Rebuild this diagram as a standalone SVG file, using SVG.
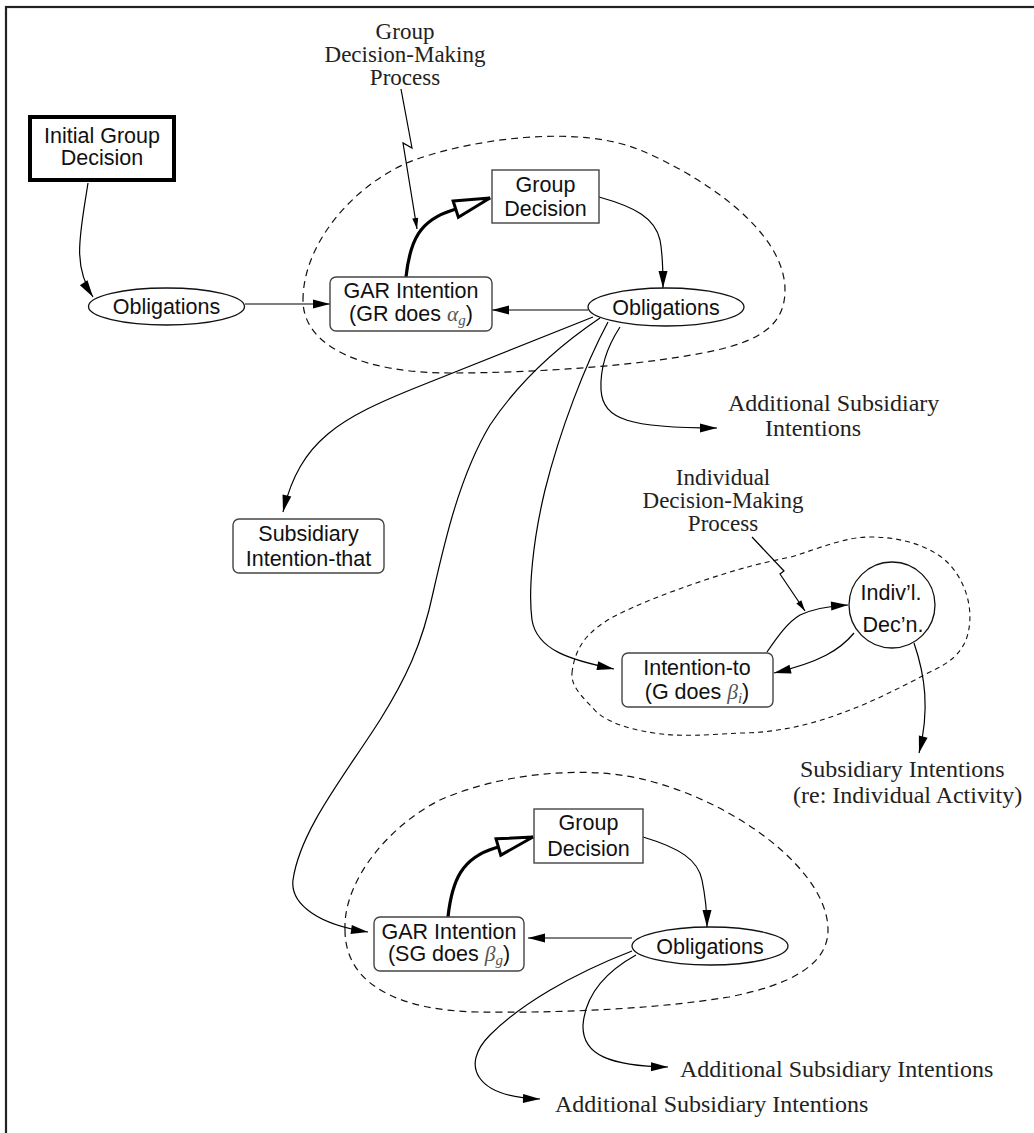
<svg xmlns="http://www.w3.org/2000/svg" width="1034" height="1133" viewBox="0 0 1034 1133">
<defs>
<style>
.sans{font-family:"Liberation Sans",Arial,sans-serif;font-size:21.5px;fill:#111;text-anchor:middle}
.serif{font-family:"Liberation Serif","Times New Roman",serif;font-size:24px;fill:#222}
.proc{font-size:23px}
.mid{text-anchor:middle}
.math{font-family:"Liberation Serif","Times New Roman",serif;font-style:italic;fill:#555}
.box{fill:#fff;stroke:#444;stroke-width:1.4}
.ell{fill:#fff;stroke:#111;stroke-width:1.3}
.con{fill:none;stroke:#000;stroke-width:1.2}
.thick{fill:none;stroke:#000;stroke-width:3.2}
.dash{fill:none;stroke:#111;stroke-width:1.2;stroke-dasharray:7 5}
.dash2{fill:none;stroke:#111;stroke-width:1.1;stroke-dasharray:5 4}
</style>
<marker id="ah" markerUnits="userSpaceOnUse" markerWidth="17" markerHeight="9" refX="17" refY="4.5" orient="auto" style="overflow:visible"><path d="M0,0 L17,4.5 L0,9 z" fill="#000"/></marker>
<marker id="ahs" markerUnits="userSpaceOnUse" markerWidth="11" markerHeight="6" refX="11" refY="3" orient="auto" style="overflow:visible"><path d="M0,0 L11,3 L0,6 z" fill="#000"/></marker>
<marker id="open" markerUnits="userSpaceOnUse" markerWidth="36" markerHeight="17" refX="36" refY="8.5" orient="auto" style="overflow:visible"><path d="M0,0 L36,8.5 L0,17 z" fill="#fff" stroke="#000" stroke-width="3" stroke-linejoin="miter"/></marker>
</defs>
<rect x="0" y="0" width="1034" height="1133" fill="#fff"/>
<rect x="6" y="7" width="1100" height="1200" fill="none" stroke="#222" stroke-width="2.2"/>

<g id="regions">
<path class="dash" d="M303,300 C303,240 360,178 420,158 C480,138 580,125 640,150 C700,175 785,230 785,290 C785,325 760,340 717,350 C650,365 540,373 450,373 C370,373 303,350 303,300 Z"/>
<path class="dash2" d="M572,673 C575,645 590,630 613,617 C640,603 670,592 705,580 C735,570 760,563 791,557 C820,548 845,537 870,537 C905,537 935,548 950,565 C968,585 975,615 966,640 C958,658 945,665 928,673 C900,688 870,703 842,713 C810,725 775,733 740,733 C705,735 680,737 654,733 C620,728 600,718 592,707 C580,695 571,685 572,673 Z"/>
<path class="dash" d="M345,930 C343,880 390,825 440,800 C490,778 550,770 600,773 C700,778 828,860 828,930 C828,965 790,985 729,997 C650,1010 550,1013 480,1012 C400,1011 345,985 345,930 Z"/>
</g>

<g id="connectors">
<path class="con" marker-end="url(#ah)" d="M88,183 C80,235 72,265 93,297"/>
<path class="con" marker-end="url(#ah)" d="M245,304 L330,304"/>
<path class="thick" marker-end="url(#open)" d="M406,277 C410,240 420,220 453,210 L490,198"/>
<path class="con" marker-end="url(#ah)" d="M599,197 C635,207 655,218 660,240 C663,255 663,270 663,288"/>
<path class="con" marker-end="url(#ah)" d="M588,310 L492,310"/>
<path class="con" marker-end="url(#ah)" d="M593,317 L420,386 C340,418 300,440 283,512"/>
<path class="con" marker-end="url(#ah)" d="M600,318 C560,345 520,380 490,425 C460,475 445,540 433,593 C422,645 405,680 380,720 C345,775 300,830 293,880 C290,905 320,925 368,932"/>
<path class="con" marker-end="url(#ah)" d="M608,322 C585,365 560,430 545,490 C533,540 528,590 532,620 C537,650 570,660 614,669"/>
<path class="con" marker-end="url(#ah)" d="M620,327 C605,350 600,370 601,390 C603,420 630,428 717,428"/>
<path class="con" marker-end="url(#ahs)" d="M401,89 L412,148 L403,143 L417,229"/>
<path class="con" marker-end="url(#ahs)" d="M752,537 L784,571 L780,574 L805,611"/>
<path class="con" marker-end="url(#ah)" d="M767,652 C778,636 788,622 800,615 C815,608 830,606 848,605"/>
<path class="con" marker-end="url(#ah)" d="M854,633 C840,650 820,662 774,673"/>
<path class="con" marker-end="url(#ah)" d="M914,643 C925,675 930,710 919,753"/>
<path class="thick" marker-end="url(#open)" d="M448,917 C452,880 462,858 495,848 L533,837"/>
<path class="con" marker-end="url(#ah)" d="M643,837 C680,848 698,860 702,880 C706,900 707,910 707,927"/>
<path class="con" marker-end="url(#ah)" d="M632,938 L528,938"/>
<path class="con" marker-end="url(#ah)" d="M632,951 C570,975 520,1005 490,1035 C460,1065 475,1097 540,1099"/>
<path class="con" marker-end="url(#ah)" d="M636,955 C600,975 585,1000 583,1025 C582,1055 610,1066 668,1067"/>
</g>

<g id="initial-group-decision">
<rect x="30" y="117" width="144" height="63" fill="#fff" stroke="#000" stroke-width="4"/>
<text class="sans" x="102" y="143">Initial Group</text>
<text class="sans" x="102" y="165">Decision</text>
</g>

<g id="obligations-1">
<ellipse class="ell" cx="166.5" cy="306.5" rx="78" ry="18.5"/>
<text class="sans" x="166.5" y="314">Obligations</text>
</g>

<g id="gar-intention-1">
<rect class="box" x="330" y="277" width="162" height="54" rx="6"/>
<text class="sans" x="411" y="298">GAR Intention</text>
<text class="sans" x="411" y="321">(GR does <tspan class="math">α</tspan><tspan class="math" font-size="15" dy="4">g</tspan><tspan dy="-4">)</tspan></text>
</g>

<g id="group-decision-1">
<rect class="box" x="492" y="170" width="107" height="53"/>
<text class="sans" x="545.5" y="192">Group</text>
<text class="sans" x="545.5" y="216">Decision</text>
</g>

<g id="obligations-2">
<ellipse class="ell" cx="666" cy="307" rx="78" ry="19"/>
<text class="sans" x="666" y="315">Obligations</text>
</g>

<g id="label-group-dmp">
<text class="serif proc mid" x="405" y="39">Group</text>
<text class="serif proc mid" x="405" y="62">Decision-Making</text>
<text class="serif proc mid" x="405" y="85">Process</text>
</g>

<g id="label-additional-1">
<text class="serif" x="728" y="411">Additional Subsidiary</text>
<text class="serif" x="765" y="436">Intentions</text>
</g>

<g id="subsidiary-intention-that">
<rect class="box" x="233" y="519" width="151" height="54" rx="6"/>
<text class="sans" x="308.5" y="541">Subsidiary</text>
<text class="sans" x="308.5" y="566">Intention-that</text>
</g>

<g id="label-individual-dmp">
<text class="serif proc mid" x="723" y="485">Individual</text>
<text class="serif proc mid" x="723" y="508">Decision-Making</text>
<text class="serif proc mid" x="723" y="531">Process</text>
</g>

<g id="intention-to">
<rect class="box" x="622" y="653" width="151" height="54" rx="6"/>
<text class="sans" x="697" y="675">Intention-to</text>
<text class="sans" x="697" y="699">(G does <tspan class="math">β</tspan><tspan class="math" font-size="15" dy="4">i</tspan><tspan dy="-4">)</tspan></text>
</g>

<g id="indivl-decn">
<circle cx="892" cy="605" r="43" fill="#fff" stroke="#111" stroke-width="1.3"/>
<text class="sans" x="891" y="600">Indiv’l.</text>
<text class="sans" x="893" y="632">Dec’n.</text>
</g>

<g id="label-subsidiary-individual">
<text class="serif" x="800" y="777">Subsidiary Intentions</text>
<text class="serif" x="793" y="803">(re: Individual Activity)</text>
</g>

<g id="group-decision-2">
<rect class="box" x="534" y="809" width="109" height="54"/>
<text class="sans" x="588.5" y="830">Group</text>
<text class="sans" x="588.5" y="856">Decision</text>
</g>

<g id="gar-intention-2">
<rect class="box" x="374" y="917" width="150" height="54" rx="6"/>
<text class="sans" x="449" y="939">GAR Intention</text>
<text class="sans" x="449" y="961">(SG does <tspan class="math">β</tspan><tspan class="math" font-size="15" dy="4">g</tspan><tspan dy="-4">)</tspan></text>
</g>

<g id="obligations-3">
<ellipse class="ell" cx="710" cy="946" rx="78" ry="19"/>
<text class="sans" x="710" y="954">Obligations</text>
</g>

<g id="label-additional-2">
<text class="serif" x="680" y="1077">Additional Subsidiary Intentions</text>
</g>
<g id="label-additional-3">
<text class="serif" x="555" y="1112">Additional Subsidiary Intentions</text>
</g>
</svg>
